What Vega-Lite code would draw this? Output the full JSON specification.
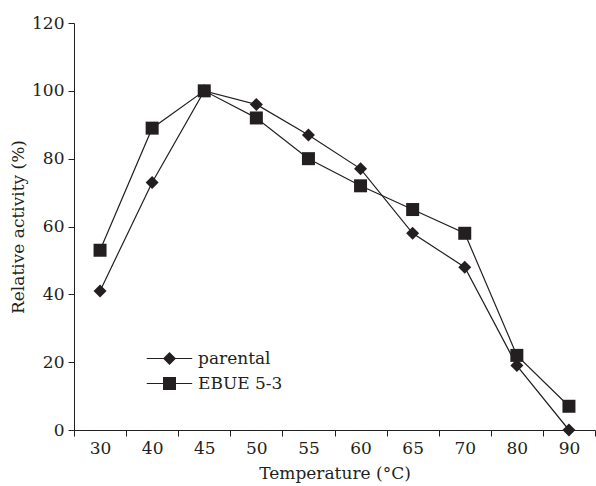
{
  "$schema": "https://vega.github.io/schema/vega-lite/v6.json",
  "autosize": {"type": "none"},
  "width": 521,
  "height": 407,
  "padding": {"left": 74, "top": 23, "right": 1, "bottom": 56},
  "background": "white",
  "config": {
    "font": "DejaVu Serif",
    "view": {"stroke": null},
    "axis": {"labelFont": "DejaVu Serif", "titleFont": "DejaVu Serif", "labelFontSize": 17, "titleFontSize": 17, "titleFontWeight": "normal", "labelColor": "#231f20", "titleColor": "#231f20", "domainColor": "#231f20", "tickColor": "#231f20", "grid": false}
  },
  "data": {"values": [
    {"t": "30", "series": "parental", "v": 41},
    {"t": "40", "series": "parental", "v": 73},
    {"t": "45", "series": "parental", "v": 100},
    {"t": "50", "series": "parental", "v": 96},
    {"t": "55", "series": "parental", "v": 87},
    {"t": "60", "series": "parental", "v": 77},
    {"t": "65", "series": "parental", "v": 58},
    {"t": "70", "series": "parental", "v": 48},
    {"t": "80", "series": "parental", "v": 19},
    {"t": "90", "series": "parental", "v": 0},
    {"t": "30", "series": "EBUE 5-3", "v": 53},
    {"t": "40", "series": "EBUE 5-3", "v": 89},
    {"t": "45", "series": "EBUE 5-3", "v": 100},
    {"t": "50", "series": "EBUE 5-3", "v": 92},
    {"t": "55", "series": "EBUE 5-3", "v": 80},
    {"t": "60", "series": "EBUE 5-3", "v": 72},
    {"t": "65", "series": "EBUE 5-3", "v": 65},
    {"t": "70", "series": "EBUE 5-3", "v": 58},
    {"t": "80", "series": "EBUE 5-3", "v": 22},
    {"t": "90", "series": "EBUE 5-3", "v": 7}
  ]},
  "encoding": {
    "x": {"field": "t", "type": "ordinal", "sort": null,
      "scale": {"type": "band", "paddingInner": 0, "paddingOuter": 0},
      "axis": {"title": "Temperature (°C)", "labelAngle": 0, "tickBand": "extent", "tickSize": 6, "labelPadding": 4, "titlePadding": 9}},
    "y": {"field": "v", "type": "quantitative",
      "scale": {"domain": [0, 120]},
      "axis": {"title": "Relative activity (%)", "values": [0, 20, 40, 60, 80, 100, 120], "tickSize": 6, "labelPadding": 4, "titlePadding": 4}}
  },
  "layer": [
    {
      "mark": {"type": "line", "color": "#231f20", "strokeWidth": 1.2},
      "encoding": {"detail": {"field": "series"}}
    },
    {
      "mark": {"type": "point", "filled": true, "color": "#231f20", "opacity": 1, "size": 169},
      "encoding": {
        "shape": {"field": "series", "type": "nominal",
          "scale": {"domain": ["parental", "EBUE 5-3"], "range": ["diamond", "square"]},
          "legend": null}
      }
    },
    {
      "mark": {"type": "point", "filled": true, "color": "#231f20", "opacity": 0, "size": 169},
      "encoding": {
        "shape": {"field": "series", "type": "nominal",
          "scale": {"domain": ["parental", "EBUE 5-3"], "range": ["M-3.5,-0.09H3.5V0.09H-3.5ZM0,-1L1,0L0,1L-1,0Z", "M-3.5,-0.09H3.5V0.09H-3.5ZM-1,-1H1V1H-1Z"]},
          "legend": {"title": null, "orient": "none", "legendX": 87, "legendY": 327,
            "labelFontSize": 17, "labelFont": "DejaVu Serif", "labelColor": "#231f20",
            "rowPadding": 6, "symbolSize": 169, "labelOffset": 20,
            "symbolOpacity": 1, "symbolFillColor": "#231f20"}
        }
      }
    }
  ],
  "resolve": {"scale": {"shape": "independent"}, "legend": {"shape": "independent"}}
}
